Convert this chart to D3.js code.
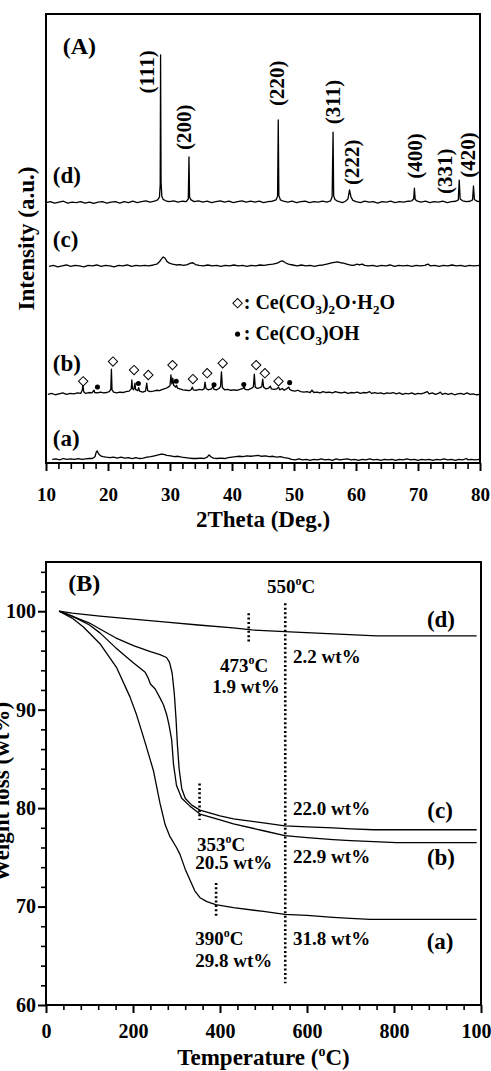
<!DOCTYPE html>
<html><head><meta charset="utf-8">
<script src="https://cdn.jsdelivr.net/npm/d3@7"></script>
<style>
html,body{margin:0;padding:0;background:#fff;overflow:hidden}
svg{display:block}
text{font-family:"Liberation Serif","Times New Roman",serif;font-weight:bold;fill:#000}
</style></head><body>
<svg id="chart" width="491" height="1071"></svg>
<script>
// ---------------- Panel A : XRD ----------------
const xrdMajorTicks = [10,20,30,40,50,60,70,80];
const xrdMinorTicks = [12,14,16,18,22,24,26,28,32,34,36,38,42,44,46,48,52,54,56,58,62,64,66,68,72,74,76,78];

const xrdD = [[10.0,58.0],[10.7,58.2],[11.4,57.9],[12.1,58.1],[12.8,58.3],[13.5,57.9],[14.2,58.1],[14.9,58.0],[15.6,58.2],[16.3,57.9],[17.0,58.1],[17.7,57.8],[18.4,58.1],[19.1,58.2],[19.8,57.9],[20.5,58.1],[21.2,58.2],[21.9,57.9],[22.6,58.2],[23.3,58.0],[24.0,58.3],[24.7,58.0],[25.4,58.2],[26.1,58.4],[26.8,58.1],[27.5,58.3],[28.0,58.6],[28.3,59.2],[28.42,62.0],[28.48,90.9],[28.56,62.5],[28.68,59.4],[28.9,58.7],[29.3,58.4],[29.9,58.2],[30.6,58.4],[31.3,58.1],[32.0,58.3],[32.6,58.2],[32.95,58.8],[33.06,68.2],[33.16,59.2],[33.4,58.6],[33.9,58.2],[34.6,58.4],[35.3,58.1],[36.0,58.3],[36.7,58.0],[37.4,58.2],[38.1,58.4],[38.8,58.1],[39.5,58.3],[40.2,58.0],[40.9,58.2],[41.6,58.4],[42.3,58.1],[43.0,58.3],[43.7,58.1],[44.4,58.3],[45.1,58.0],[45.8,58.2],[46.5,58.3],[47.1,58.6],[47.35,59.4],[47.46,76.4],[47.56,59.6],[47.8,58.6],[48.3,58.3],[49.0,58.1],[49.7,58.3],[50.4,58.0],[51.1,58.2],[51.8,58.3],[52.5,58.0],[53.2,58.2],[53.9,58.1],[54.6,58.3],[55.3,58.1],[55.9,58.4],[56.15,59.3],[56.3,73.7],[56.4,59.5],[56.6,58.7],[56.9,58.4],[57.3,58.2],[57.8,58.0],[58.3,58.3],[58.7,58.8],[58.95,60.8],[59.2,59.2],[59.5,58.5],[60.0,58.2],[60.7,58.0],[61.4,58.3],[62.1,58.1],[62.8,58.2],[63.5,57.9],[64.2,58.2],[64.9,58.1],[65.6,58.3],[66.3,58.0],[67.0,58.2],[67.7,58.1],[68.4,58.3],[69.0,58.4],[69.3,58.8],[69.42,61.2],[69.55,58.7],[69.9,58.3],[70.5,58.1],[71.2,58.3],[71.9,58.0],[72.6,58.2],[73.3,58.1],[74.0,58.3],[74.7,58.0],[75.4,58.2],[76.1,58.3],[76.5,58.6],[76.65,63.0],[76.8,58.8],[77.2,58.4],[77.8,58.2],[78.4,58.3],[78.8,58.6],[78.95,61.7],[79.1,58.7],[79.5,58.3],[80.0,58.2]];

const xrdC = [[10.5,43.8],[11.2,44.0],[11.9,43.7],[12.6,43.9],[13.3,44.1],[14.0,43.8],[14.7,44.0],[15.4,43.9],[16.1,43.7],[16.8,44.0],[17.5,43.9],[18.2,44.1],[18.9,43.8],[19.6,44.0],[20.3,43.9],[21.0,43.7],[21.7,44.0],[22.4,43.9],[23.1,44.1],[23.8,43.8],[24.5,44.0],[25.2,43.9],[25.9,44.0],[26.6,43.9],[27.3,44.1],[27.9,44.3],[28.3,44.8],[28.6,45.4],[28.9,45.9],[29.2,45.6],[29.5,44.9],[29.9,44.5],[30.4,44.3],[31.0,44.1],[31.6,44.2],[32.2,44.0],[32.8,44.2],[33.3,44.5],[33.7,44.6],[34.1,44.2],[34.7,44.0],[35.4,43.9],[36.1,44.1],[36.8,43.9],[37.5,44.0],[38.2,43.8],[38.9,44.0],[39.6,43.9],[40.3,44.1],[41.0,43.9],[41.7,44.0],[42.4,43.8],[43.1,44.0],[43.8,43.9],[44.5,44.1],[45.2,44.0],[45.9,44.2],[46.6,44.3],[47.3,44.5],[47.8,44.9],[48.2,45.0],[48.6,44.6],[49.1,44.3],[49.8,44.1],[50.5,43.9],[51.2,44.1],[51.9,43.9],[52.6,44.0],[53.3,43.8],[54.0,44.0],[54.7,44.1],[55.3,44.3],[55.9,44.5],[56.5,44.7],[57.0,44.8],[57.5,44.6],[58.0,44.5],[58.5,44.3],[59.0,44.1],[59.6,44.0],[60.2,44.3],[60.5,44.1],[61.0,44.3],[61.4,44.0],[62.0,43.9],[62.7,44.0],[63.4,43.8],[64.1,44.0],[64.8,43.9],[65.5,44.1],[66.2,43.8],[66.9,44.0],[67.6,43.9],[68.3,44.0],[69.0,43.8],[69.7,44.0],[70.4,43.9],[71.1,44.0],[71.6,44.3],[72.0,43.9],[72.7,44.0],[73.4,43.8],[74.1,44.0],[74.8,43.9],[75.5,44.1],[76.2,43.9],[76.9,44.0],[77.6,43.8],[78.3,44.0],[79.0,43.9],[80.0,44.0]];

const xrdB = [[10.3,15.3],[10.9,15.5],[11.5,15.2],[12.1,15.4],[12.7,15.6],[13.3,15.3],[13.9,15.5],[14.5,15.4],[15.1,15.6],[15.6,15.5],[15.85,16.2],[15.95,17.4],[16.1,15.8],[16.4,15.5],[16.9,15.7],[17.4,15.6],[17.75,16.2],[17.85,15.7],[18.3,15.6],[18.8,15.8],[19.3,15.6],[19.8,15.7],[20.2,15.9],[20.45,16.4],[20.55,20.9],[20.65,16.3],[20.9,15.8],[21.4,15.6],[21.9,15.8],[22.4,15.7],[22.9,15.9],[23.4,16.0],[23.75,16.5],[23.85,18.5],[23.95,16.6],[24.15,16.3],[24.35,17.8],[24.45,16.4],[24.8,16.1],[24.95,16.8],[25.1,16.0],[25.6,15.8],[26.05,16.0],[26.25,17.8],[26.4,16.1],[26.8,15.9],[27.3,16.0],[27.8,16.2],[28.3,16.1],[28.8,16.4],[29.3,16.6],[29.7,16.9],[30.0,17.2],[30.15,19.6],[30.3,17.6],[30.45,18.9],[30.6,17.3],[30.9,16.9],[31.05,17.3],[31.2,16.7],[31.6,16.5],[32.1,16.3],[32.6,16.2],[33.1,16.1],[33.45,16.4],[33.6,16.9],[33.75,16.3],[34.2,16.2],[34.7,16.4],[35.2,16.3],[35.5,16.5],[35.65,18.0],[35.8,16.6],[36.2,16.3],[36.7,16.5],[36.95,17.1],[37.1,16.4],[37.5,16.3],[37.9,16.6],[38.15,17.0],[38.3,20.3],[38.45,16.8],[38.8,16.3],[39.3,16.4],[39.8,16.2],[40.3,16.3],[40.8,16.2],[41.3,16.4],[41.8,16.6],[41.95,17.1],[42.1,16.4],[42.6,16.3],[43.1,16.6],[43.45,17.0],[43.6,19.8],[43.75,16.9],[44.1,16.6],[44.5,16.8],[44.8,17.0],[44.95,18.7],[45.1,16.9],[45.5,16.5],[45.9,16.7],[46.2,17.1],[46.35,16.5],[46.8,16.4],[47.2,16.5],[47.5,16.9],[47.7,16.3],[48.1,16.6],[48.4,16.2],[48.8,16.5],[49.15,16.9],[49.3,16.4],[49.7,16.1],[50.2,16.0],[50.6,16.2],[51.1,15.9],[51.6,15.8],[52.1,15.9],[52.6,15.7],[52.9,16.2],[53.2,15.7],[53.7,15.8],[54.2,15.6],[54.7,15.9],[55.2,15.7],[55.7,15.8],[56.2,15.6],[56.7,15.9],[57.2,15.7],[57.7,15.6],[58.2,15.8],[58.7,15.5],[59.2,15.7],[59.7,15.6],[60.2,15.8],[60.7,15.5],[61.2,15.7],[61.7,15.6],[62.2,15.9],[62.5,15.5],[63.0,15.7],[63.5,15.5],[64.0,15.6],[64.5,15.4],[65.0,15.6],[65.5,15.5],[66.0,15.7],[66.5,15.4],[67.0,15.6],[67.5,15.3],[68.0,15.5],[68.5,15.4],[69.0,15.6],[69.5,15.3],[70.0,15.5],[70.5,15.4],[71.0,15.6],[71.5,15.9],[71.8,15.4],[72.3,15.6],[72.8,15.3],[73.3,15.5],[73.6,15.8],[73.9,15.3],[74.4,15.5],[74.9,15.3],[75.4,15.5],[75.9,15.2],[76.4,15.4],[76.9,15.5],[77.4,15.3],[77.9,15.6],[78.4,15.3],[78.9,15.4],[79.4,15.2],[80.0,15.3]];

const xrdA = [[11.0,0.8],[11.6,0.9],[12.2,0.7],[12.8,1.0],[13.4,0.8],[14.0,0.9],[14.6,0.8],[15.2,1.0],[15.8,0.8],[16.4,0.9],[17.0,1.0],[17.5,1.0],[17.9,1.4],[18.1,2.4],[18.25,2.7],[18.5,2.0],[18.8,1.6],[19.2,1.4],[19.7,1.3],[20.3,1.2],[20.9,1.3],[21.5,1.1],[22.1,1.3],[22.7,1.1],[23.3,1.2],[23.9,1.0],[24.5,1.2],[25.1,1.0],[25.7,1.1],[26.3,1.3],[26.9,1.4],[27.5,1.6],[28.1,1.8],[28.6,2.0],[29.0,1.9],[29.5,1.7],[30.1,1.6],[30.7,1.4],[31.3,1.5],[31.9,1.3],[32.5,1.2],[33.1,1.1],[33.7,1.0],[34.3,1.0],[34.9,1.1],[35.5,1.0],[36.0,1.3],[36.3,1.8],[36.6,1.4],[37.0,1.1],[37.6,1.0],[38.2,1.1],[38.8,1.0],[39.4,1.2],[40.0,1.3],[40.6,1.4],[41.2,1.5],[41.8,1.4],[42.4,1.6],[43.0,1.5],[43.6,1.6],[44.2,1.7],[44.8,1.5],[45.4,1.6],[46.0,1.4],[46.6,1.5],[47.2,1.3],[47.8,1.4],[48.4,1.2],[49.0,1.1],[49.6,0.8],[50.2,0.7],[50.8,0.9],[51.4,0.7],[52.0,0.8],[52.6,0.6],[53.2,0.8],[53.8,0.7],[54.4,0.9],[55.0,0.7],[55.6,0.8],[56.2,0.6],[56.8,0.9],[57.4,0.7],[58.0,0.8],[58.6,0.9],[59.2,0.7],[59.8,0.8],[60.4,0.6],[61.0,0.8],[61.6,0.7],[62.2,0.9],[62.8,0.7],[63.4,0.8],[64.0,0.6],[64.6,0.8],[65.2,0.7],[65.8,0.8],[66.4,0.6],[67.0,0.8],[67.6,0.7],[68.2,0.9],[68.8,0.7],[69.4,0.8],[70.0,0.6],[70.6,0.8],[71.2,0.7],[71.8,0.8],[72.4,0.6],[73.0,0.8],[73.6,0.7],[74.2,0.9],[74.8,0.7],[75.4,0.8],[76.0,0.6],[76.6,0.8],[77.2,0.7],[77.8,1.0],[78.1,0.7],[78.6,0.8],[79.2,0.7],[80.0,0.8]];

// phase markers on pattern (b): [2theta, intensity]
const carbonateOxideMarks = [[16.0,18.2],[20.8,22.6],[24.2,20.7],[26.5,19.6],[30.4,21.8],[33.7,18.7],[36.0,20.0],[38.5,22.2],[43.9,21.8],[45.3,20.0],[47.5,18.2]];
const hydroxyCarbonateMarks = [[18.3,16.9],[24.9,17.7],[31.0,18.2],[37.1,17.4],[41.9,17.5],[49.3,17.9]];

// CeO2 reflections: [label, 2theta, label center 2theta, label center intensity]
const hklLabels = [["(111)",28.48,26.3,87.1],["(200)",33.06,32.3,74.8],["(220)",47.46,47.3,84.6],["(311)",56.3,56.3,80.4],["(222)",58.95,59.4,67.0],["(400)",69.42,69.5,68.4],["(331)",76.65,74.4,65.0],["(420)",78.95,78.1,68.6]];
const xrdCurveNames = [["(d)",11.1,64.0],["(c)",11.1,49.8],["(b)",11.1,22.1],["(a)",11.1,5.4]];

// ---------------- Panel B : TGA ----------------
const tgaMajorX = [0,200,400,600,800,1000];
const tgaMinorX = [40,80,120,160,240,280,320,360,440,480,520,560,640,680,720,760,840,880,920,960];
const tgaMajorY = [60,70,80,90,100];
const tgaMinorY = [62,64,66,68,72,74,76,78,82,84,86,88,92,94,96,98,102,104];

const tgaD = [[30,100],[60,99.8],[124,99.5],[200,99.2],[277,98.9],[350,98.6],[430,98.3],[473,98.1],[561,97.9],[660,97.7],[760,97.5],[990,97.5]];
const tgaC = [[30,100],[60,99.5],[100,98.8],[124,98.2],[160,97.3],[201,96.5],[240,95.9],[262,95.6],[277,95.3],[284,94.8],[290,93.7],[295,91.6],[299,89.0],[302,86.5],[306,84.0],[312,82.0],[320,81.0],[335,80.3],[354,79.8],[400,79.2],[431,78.9],[500,78.5],[549,78.2],[600,78.1],[660,78.0],[700,77.9],[753,77.8],[990,77.8]];
const tgaB = [[30,100],[60,99.5],[100,98.6],[124,97.8],[160,96.3],[200,94.8],[228,93.8],[235,93.2],[240,92.6],[251,92.1],[262,91.2],[270,90.5],[278,89.4],[283,88.4],[289,86.9],[293,84.5],[300,82.3],[312,81.0],[331,80.2],[354,79.4],[400,78.8],[431,78.4],[500,77.7],[549,77.2],[600,77.0],[660,76.8],[700,76.7],[806,76.5],[990,76.5]];
const tgaA = [[30,100],[60,99.3],[86,98.4],[124,96.7],[162,94.3],[193,91.3],[208,89.5],[220,87.8],[231,86.2],[247,83.8],[262,80.5],[274,78.3],[285,77.1],[300,76.0],[308,75.3],[320,73.8],[332,72.6],[342,71.6],[354,70.9],[370,70.5],[390,70.2],[431,69.9],[500,69.5],[549,69.2],[600,69.1],[660,68.9],[700,68.8],[745,68.7],[990,68.7]];

// guide lines: [temperature, from wt%, to wt%]
const tgaGuides = [[550,100.8,62.2],[466,99.8,96.9],[353,82.5,78.8],[391,72.4,68.8]];
// annotations: [text, temperature, wt%, anchor]
const tgaNotes = [["550|C",508,101.85,"start"],["473|C",400,93.8,"start"],["1.9 wt%",382,91.7,"start"],["2.2 wt%",568,94.7,"start"],["22.0 wt%",568,79.3,"start"],["353|C",347,75.6,"start"],["20.5 wt%",343,73.8,"start"],["22.9 wt%",568,74.4,"start"],["390|C",343,66.1,"start"],["29.8 wt%",343,63.9,"start"],["31.8 wt%",568,66.1,"start"]];
const tgaCurveNames = [["(d)",908,99.2],["(c)",906,79.8],["(b)",908,75.0],["(a)",906,66.4]];

// ---------------- drawing ----------------
const svg = d3.select("#chart");
const xA = d3.scaleLinear().domain([10,80]).range([46,480]);
const yA = d3.scaleLinear().domain([0,100]).range([463,14]);
const xB = d3.scaleLinear().domain([0,1000]).range([46,481]);
const yB = d3.scaleLinear().domain([60,105]).range([1005,562]);

function frame(x,y){
  svg.append("rect").attr("x",x.range()[0]).attr("y",y.range()[1])
    .attr("width",x.range()[1]-x.range()[0]).attr("height",y.range()[0]-y.range()[1])
    .attr("fill","none").attr("stroke","#000").attr("stroke-width",2);
}
function styleAxis(g,w){
  g.select(".domain").remove();
  g.selectAll("line").attr("stroke","#000").attr("stroke-width",w);
}

// Panel A axes
let g = svg.append("g").attr("transform",`translate(0,${yA(0)})`)
  .call(d3.axisBottom(xA).tickValues(xrdMinorTicks).tickSize(6).tickFormat(""));
styleAxis(g,1.6);
g = svg.append("g").attr("transform",`translate(0,${yA(0)})`)
  .call(d3.axisBottom(xA).tickValues(xrdMajorTicks).tickSize(8).tickPadding(17).tickFormat(d3.format("d")));
styleAxis(g,2);
g.selectAll("text").attr("font-size",19).attr("font-family","Liberation Serif").attr("font-weight","bold").attr("fill","#000");
frame(xA,yA);

const lineA = d3.line().x(d=>xA(d[0])).y(d=>yA(d[1]));
[xrdD,xrdC,xrdB,xrdA].forEach(s=>{
  svg.append("path").datum(s).attr("d",lineA).attr("fill","none")
    .attr("stroke","#000").attr("stroke-width",1.3).attr("stroke-linejoin","round");
});

const diamond = d3.symbol().type(d3.symbolSquare).size(44);
const dot = d3.symbol().type(d3.symbolCircle).size(20);
svg.selectAll("path.dia").data(carbonateOxideMarks).join("path").attr("class","dia")
  .attr("d",diamond).attr("transform",d=>`translate(${xA(d[0])},${yA(d[1])}) rotate(45)`)
  .attr("fill","#fff").attr("stroke","#000").attr("stroke-width",1);
svg.selectAll("path.dot").data(hydroxyCarbonateMarks).join("path").attr("class","dot")
  .attr("d",dot).attr("transform",d=>`translate(${xA(d[0])},${yA(d[1])})`).attr("fill","#000");

svg.selectAll("text.hkl").data(hklLabels).join("text").attr("class","hkl")
  .attr("transform",d=>`translate(${xA(d[2])},${yA(d[3])}) rotate(-90)`)
  .attr("text-anchor","middle").attr("dominant-baseline","central").attr("font-size",21).text(d=>d[0]);

svg.selectAll("text.cnA").data(xrdCurveNames).join("text").attr("class","cnA")
  .attr("x",d=>xA(d[1])).attr("y",d=>yA(d[2])).attr("dominant-baseline","central")
  .attr("font-size",23).text(d=>d[0]);

svg.append("text").attr("x",xA(12.7)).attr("y",yA(92.9)).attr("dominant-baseline","central").attr("font-size",24).text("(A)");

// legend
svg.append("path").attr("d",diamond).attr("transform",`translate(${xA(40.9)},${yA(35.6)}) rotate(45)`)
  .attr("fill","#fff").attr("stroke","#000").attr("stroke-width",1);
svg.append("path").attr("d",dot).attr("transform",`translate(${xA(40.9)},${yA(28.7)})`).attr("fill","#000");
function chem(x,y,parts){
  const tx = svg.append("text").attr("x",x).attr("y",y).attr("font-size",20);
  let sub=false;
  parts.forEach(p=>{
    const isSub = p.startsWith("_");
    const s = tx.append("tspan").text(isSub?p.slice(1):p);
    if(isSub && !sub){s.attr("dy",5).attr("font-size",13);sub=true;}
    else if(isSub){s.attr("font-size",13);}
    else if(!isSub && sub){s.attr("dy",-5);sub=false;}
  });
}
chem(xA(41.9),yA(34.4),[": Ce(CO","_3",")","_2","O\u00b7H","_2","O"]);
chem(xA(41.9),yA(27.5),[": Ce(CO","_3",")OH"]);

svg.append("text").attr("transform",`translate(34,${(yA.range()[0]+yA.range()[1])/2}) rotate(-90)`)
  .attr("text-anchor","middle").attr("font-size",23).text("Intensity (a.u.)");
svg.append("text").attr("x",(xA.range()[0]+xA.range()[1])/2).attr("y",527)
  .attr("text-anchor","middle").attr("font-size",23).text("2Theta (Deg.)");

// Panel B axes
g = svg.append("g").attr("transform",`translate(0,${yB(60)})`)
  .call(d3.axisBottom(xB).tickValues(tgaMinorX).tickSize(5).tickFormat(""));
styleAxis(g,1.6);
g = svg.append("g").attr("transform",`translate(0,${yB(60)})`)
  .call(d3.axisBottom(xB).tickValues(tgaMajorX).tickSize(8).tickPadding(11).tickFormat(d3.format("d")));
styleAxis(g,2);
g.selectAll("text").attr("font-size",20).attr("font-family","Liberation Serif").attr("font-weight","bold").attr("fill","#000");
g = svg.append("g").attr("transform",`translate(${xB(0)},0)`)
  .call(d3.axisLeft(yB).tickValues(tgaMinorY).tickSize(5).tickFormat(""));
styleAxis(g,1.6);
g = svg.append("g").attr("transform",`translate(${xB(0)},0)`)
  .call(d3.axisLeft(yB).tickValues(tgaMajorY).tickSize(8).tickPadding(2).tickFormat(d3.format("d")));
styleAxis(g,2);
g.selectAll("text").attr("font-size",20).attr("font-family","Liberation Serif").attr("font-weight","bold").attr("fill","#000");
frame(xB,yB);

const lineB = d3.line().x(d=>xB(d[0])).y(d=>yB(d[1]));
[tgaD,tgaC,tgaB,tgaA].forEach(s=>{
  svg.append("path").datum(s).attr("d",lineB).attr("fill","none")
    .attr("stroke","#000").attr("stroke-width",1.3).attr("stroke-linejoin","round");
});
svg.selectAll("line.guide").data(tgaGuides).join("line").attr("class","guide")
  .attr("x1",d=>xB(d[0])).attr("x2",d=>xB(d[0])).attr("y1",d=>yB(d[1])).attr("y2",d=>yB(d[2]))
  .attr("stroke","#000").attr("stroke-width",2.6).attr("stroke-dasharray","2,2.4");

tgaNotes.forEach(n=>{
  const t = svg.append("text").attr("x",xB(n[1])).attr("y",yB(n[2])).attr("text-anchor",n[3]).attr("font-size",19);
  if(n[0].includes("|")){
    const [a,b] = n[0].split("|");
    t.append("tspan").text(a);
    t.append("tspan").attr("dy",-8).attr("font-size",12).text("o");
    t.append("tspan").attr("dy",8).text(b);
  } else t.text(n[0]);
});
svg.selectAll("text.cnB").data(tgaCurveNames).join("text").attr("class","cnB")
  .attr("x",d=>xB(d[1])).attr("y",d=>yB(d[2])).attr("text-anchor","middle").attr("dominant-baseline","central")
  .attr("font-size",23).text(d=>d[0]);
svg.append("text").attr("x",xB(51)).attr("y",yB(102.9)).attr("dominant-baseline","central").attr("font-size",24).text("(B)");

const tt = svg.append("text").attr("x",(xB.range()[0]+xB.range()[1])/2).attr("y",1065).attr("text-anchor","middle").attr("font-size",23);
tt.append("tspan").text("Temperature (");
tt.append("tspan").attr("dy",-9).attr("font-size",14).text("o");
tt.append("tspan").attr("dy",9).text("C)");

svg.append("text").attr("transform",`translate(9,792) rotate(-90)`)
  .attr("text-anchor","middle").attr("font-size",23).text("Weight loss (wt%)");
</script>
</body></html>
